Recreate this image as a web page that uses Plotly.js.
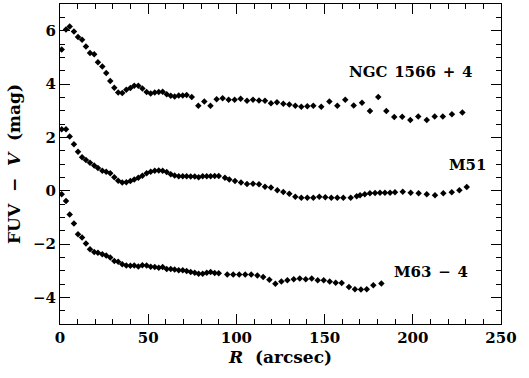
<!DOCTYPE html>
<html><head><meta charset="utf-8">
<script src="https://cdn.plot.ly/plotly-3.0.1.min.js"></script>
<style>html,body{margin:0;padding:0;background:#fff}#c{width:529px;height:378px}</style>
</head><body><div id="c"></div>
<script>
// NGC 1566 (+4)
const ngcR = [0.96,3.4,5.5,7.9,10.2,12.5,14.7,17.0,19.4,21.5,24.0,26.2,28.5,30.8,33.0,35.3,37.6,39.9,42.1,44.4,46.7,49.1,51.4,53.7,56.0,58.2,60.5,62.8,65.0,67.3,69.6,71.8,74.7,78.4,81.8,85.3,88.8,92.2,95.6,99.0,102.4,106.0,109.4,112.8,116.2,119.6,123.0,126.6,130.0,133.4,136.8,140.2,143.6,148.1,152.7,157.2,161.7,166.5,171.2,175.7,180.4,185.0,189.5,194.0,198.6,203.1,207.9,212.4,217.0,222.2,228.1];
const ngcV = [5.29,6.04,6.16,5.97,5.76,5.66,5.41,5.16,5.12,4.82,4.66,4.41,4.11,3.86,3.68,3.66,3.78,3.85,3.93,3.93,3.83,3.70,3.64,3.68,3.70,3.71,3.62,3.56,3.53,3.57,3.57,3.59,3.51,3.18,3.34,3.18,3.43,3.47,3.41,3.41,3.45,3.37,3.41,3.38,3.37,3.28,3.32,3.26,3.23,3.18,3.15,3.17,3.18,3.15,3.34,3.18,3.41,3.19,3.30,2.99,3.51,2.99,2.76,2.77,2.65,2.78,2.65,2.78,2.78,2.87,2.93];
// M51
const m51R = [0.96,3.4,5.5,7.9,10.2,12.5,14.7,17.0,19.4,21.5,24.0,26.2,28.5,30.8,33.0,35.3,37.6,39.9,42.1,44.4,46.7,49.1,51.4,53.7,56.0,58.2,60.5,62.8,65.0,67.3,69.6,71.8,74.1,76.4,78.6,80.9,83.2,85.4,87.7,90.0,93.5,96.0,99.2,102.6,106.0,109.4,112.8,116.2,119.6,123.2,126.6,130.0,133.4,136.8,140.2,143.6,147.0,150.4,153.8,157.2,160.6,164.8,168.2,170.1,172.8,175.7,178.6,181.4,184.2,187.1,189.9,194.3,198.8,203.3,207.9,212.6,217.3,222.1,226.4,230.6];
const m51V = [2.30,2.30,2.03,1.74,1.46,1.25,1.15,1.05,0.94,0.85,0.75,0.71,0.65,0.50,0.37,0.31,0.32,0.36,0.42,0.48,0.56,0.65,0.71,0.75,0.76,0.75,0.70,0.62,0.57,0.54,0.54,0.54,0.53,0.53,0.50,0.54,0.54,0.54,0.55,0.55,0.48,0.42,0.36,0.31,0.25,0.26,0.24,0.15,0.12,0.02,-0.05,-0.12,-0.23,-0.27,-0.27,-0.27,-0.23,-0.25,-0.27,-0.27,-0.27,-0.27,-0.21,-0.17,-0.13,-0.10,-0.09,-0.08,-0.08,-0.08,-0.06,-0.04,-0.08,-0.10,-0.13,-0.17,-0.10,-0.06,0.02,0.14];
// M63 (-4)
const m63R = [0.96,3.4,5.5,7.9,10.2,12.5,14.7,17.0,19.4,21.5,24.0,26.2,28.5,30.8,33.0,35.3,37.6,39.9,42.1,44.4,46.7,49.1,51.4,53.7,56.0,58.2,60.5,62.8,65.0,67.3,69.6,71.8,74.1,76.4,78.6,80.9,83.2,85.4,87.7,90.0,94.8,98.2,101.6,105.0,108.4,111.9,115.2,118.7,122.1,125.5,128.9,132.5,135.9,139.3,142.7,146.1,149.5,152.9,156.3,159.7,163.8,167.2,170.6,173.9,177.6,182.2];
const m63V = [-0.13,-0.39,-0.89,-1.23,-1.63,-1.76,-1.98,-2.20,-2.30,-2.33,-2.38,-2.43,-2.51,-2.64,-2.67,-2.76,-2.81,-2.82,-2.81,-2.84,-2.80,-2.81,-2.85,-2.86,-2.89,-2.86,-2.94,-2.94,-2.96,-2.98,-2.98,-3.01,-3.05,-3.08,-3.12,-3.12,-3.08,-3.05,-3.09,-3.10,-3.14,-3.14,-3.14,-3.14,-3.14,-3.18,-3.24,-3.34,-3.49,-3.41,-3.36,-3.32,-3.29,-3.32,-3.29,-3.36,-3.36,-3.41,-3.45,-3.46,-3.61,-3.70,-3.71,-3.70,-3.55,-3.48];

const seriesLabels = ["NGC 1566 + 4", "M51", "M63 \u2212 4"];
const labelX = [234.7, 242.6, 232.4];
const labelY = [4.46, 0.97, -3.06];

const F = "DejaVu Serif, Liberation Serif, serif";
const mk = {symbol:'diamond', size:5, color:'#000'};
const traces = [[ngcR,ngcV],[m51R,m51V],[m63R,m63V]].map(([x,y]) => ({
  x:x, y:y, type:'scatter', mode:'markers', marker:mk, hoverinfo:'skip'
}));

const axBase = {
  showline:true, linecolor:'#000', linewidth:1, mirror:'allticks',
  ticks:'inside', ticklen:10, tickwidth:1, tickcolor:'#000',
  showgrid:false, zeroline:false,
  tickfont:{family:F, size:15, color:'#000', weight:'bold'}
};

const layout = {
  width:529, height:378,
  margin:{l:60, r:28, t:4, b:54},
  paper_bgcolor:'#fff', plot_bgcolor:'#fff',
  showlegend:false,
  xaxis:Object.assign({}, axBase, {
    range:[0,250], dtick:50, tick0:0,
    minor:{dtick:10, ticklen:5, ticks:'inside', tickcolor:'#000', tickwidth:1},
    title:{text:'<i>R</i>\u00a0\u00a0(arcsec)', font:{family:F, size:17, color:'#000', weight:'bold'}, standoff:5}
  }),
  yaxis:Object.assign({}, axBase, {
    range:[-5,7], dtick:2, tick0:0,
    minor:{dtick:0.5, ticklen:5, ticks:'inside', tickcolor:'#000', tickwidth:1},
    title:{text:'FUV\u00a0\u00a0\u2212\u00a0\u00a0<i>V</i>\u00a0\u00a0(mag)', font:{family:F, size:17, color:'#000', weight:'bold'}, standoff:8}
  }),
  annotations: seriesLabels.map((t,i) => ({
    x:labelX[i], y:labelY[i], xref:'x', yref:'y', text:t.replace(/ /g,'\u00a0\u200a'),
    showarrow:false, xanchor:'right', yanchor:'middle',
    font:{family:F, size:15, color:'#000', weight:'bold'}
  }))
};

Plotly.newPlot('c', traces, layout, {staticPlot:true, displayModeBar:false});
</script></body></html>
